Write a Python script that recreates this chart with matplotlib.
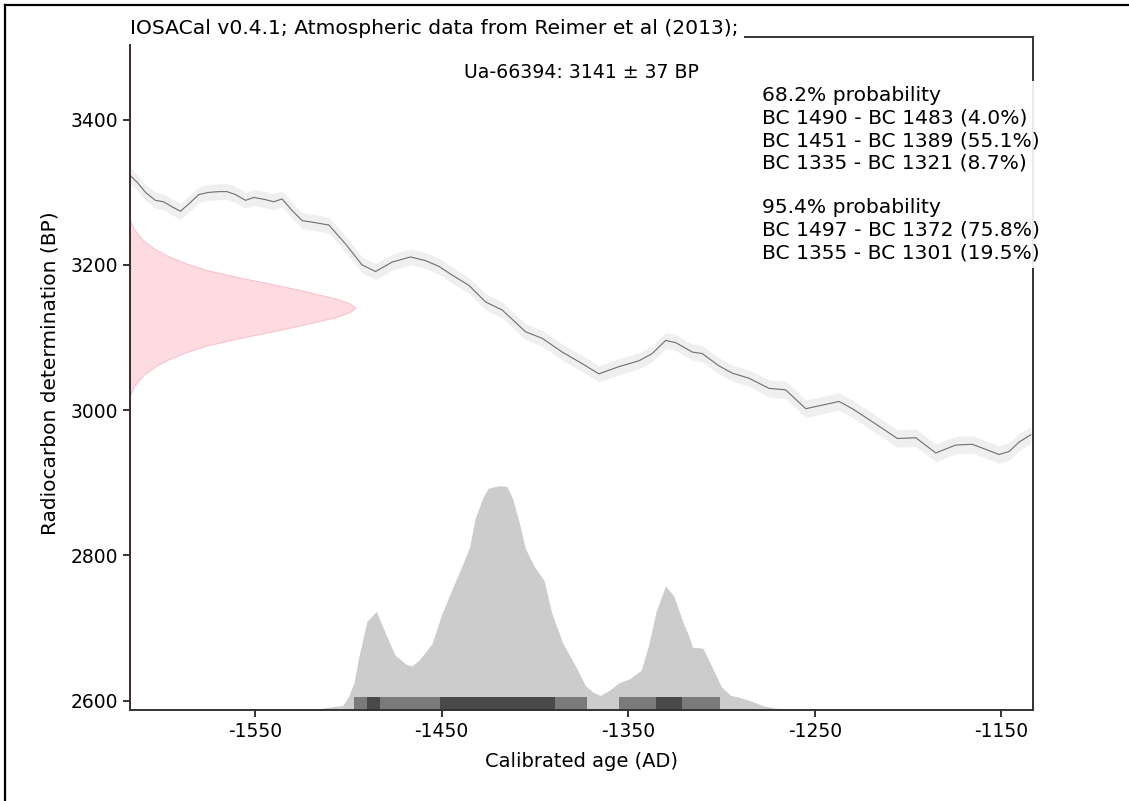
import numpy as np
import matplotlib
matplotlib.use("Agg")
import matplotlib.pyplot as plt
from matplotlib.transforms import blended_transform_factory
from matplotlib.lines import Line2D

plt.rcParams['axes.unicode_minus'] = False
plt.rcParams['font.family'] = ['DejaVu Sans']

# ---- Data ----
# calibration curve (calendar year, radiocarbon BP, error BP)
curve_year = [-1616.8, -1613.2, -1608.7, -1603.4, -1598.9, -1594.4, -1590.0, -1585.5,
              -1580.1, -1574.8, -1569.4, -1565.0, -1560.5, -1555.1, -1550.6, -1544.4,
              -1539.9, -1535.5, -1530.1, -1524.7, -1519.4, -1510.4, -1501.5, -1492.6,
              -1485.4, -1476.5, -1466.6, -1458.6, -1451.4, -1444.3, -1435.4, -1426.4,
              -1417.5, -1405.0, -1396.1, -1385.3, -1374.6, -1365.7, -1354.9, -1344.2,
              -1337.1, -1329.9, -1324.5, -1315.6, -1310.3, -1301.3, -1294.2, -1285.2,
              -1274.5, -1265.6, -1254.8, -1247.7, -1237.0, -1229.8, -1219.1, -1205.7,
              -1195.8, -1185.1, -1174.4, -1165.5, -1151.2, -1145.8, -1140.5, -1134.2]
curve_bp = [3323, 3314, 3300, 3289, 3287, 3280, 3274, 3284,
            3297, 3300, 3301, 3301, 3297, 3289, 3293, 3290,
            3287, 3291, 3275, 3261, 3259, 3255, 3229, 3200,
            3191, 3204, 3211, 3206, 3198, 3186, 3172, 3149,
            3138, 3108, 3099, 3080, 3064, 3050, 3060, 3068,
            3078, 3096, 3093, 3080, 3078, 3061, 3051, 3044,
            3030, 3028, 3002, 3006, 3012, 3002, 2984, 2961,
            2962, 2941, 2952, 2953, 2939, 2943, 2956, 2966]
curve_err = [11, 11, 11, 11, 11, 11, 11, 11,
             11, 11, 11, 11, 11, 11, 11, 11,
             11, 11, 11, 11, 11, 11, 11, 11,
             11, 11, 11, 11, 11, 11, 11, 11,
             11, 11, 11, 11, 11, 11, 11, 11,
             11, 11, 11, 11, 11, 11, 11, 11,
             12, 12, 12, 12, 12, 12, 12, 12,
             12, 12, 12, 12, 12, 12, 12, 12]

# radiocarbon sample distribution (BP, density relative to peak)
sample_bp = [3262, 3252, 3242, 3232, 3222, 3212, 3202, 3193, 3183, 3175, 3165, 3154, 3147, 3141,
             3135, 3128, 3117, 3107, 3099, 3089, 3080, 3070, 3060, 3050, 3040, 3030, 3019]
sample_rel = [0.0, 0.012, 0.035, 0.065, 0.11, 0.17, 0.25, 0.34, 0.48, 0.61, 0.76, 0.91, 0.975, 1.0,
              0.975, 0.91, 0.76, 0.61, 0.48, 0.34, 0.25, 0.17, 0.11, 0.065, 0.035, 0.012, 0.0]

# calibrated calendar distribution (year, probability relative to peak)
cal_year = [-1530, -1522, -1514, -1508, -1503, -1500, -1497, -1494.3, -1490, -1485,
            -1481, -1475, -1469, -1466, -1462, -1455, -1450, -1444, -1439, -1435,
            -1432, -1428, -1425, -1419, -1415, -1412, -1408.5, -1405, -1400.5, -1395,
            -1391, -1385, -1378, -1373, -1369, -1365, -1360, -1355, -1349, -1343,
            -1339, -1335, -1330, -1325.5, -1321, -1317, -1315.6, -1310, -1306, -1300,
            -1295, -1291, -1285, -1278, -1271, -1260, -1250]
cal_rel = [0.0, 0.004, 0.008, 0.015, 0.02, 0.058, 0.12, 0.24, 0.395, 0.44,
           0.36, 0.245, 0.204, 0.196, 0.223, 0.298, 0.426, 0.546, 0.643, 0.726,
           0.854, 0.944, 0.989, 1.0, 0.996, 0.944, 0.839, 0.718, 0.643, 0.576,
           0.433, 0.298, 0.193, 0.11, 0.08, 0.065, 0.088, 0.121, 0.14, 0.178,
           0.29, 0.44, 0.553, 0.508, 0.40, 0.32, 0.28, 0.276, 0.208, 0.103,
           0.065, 0.058, 0.043, 0.02, 0.008, 0.002, 0.0]

# HPD intervals
hpd68 = [(-1490, -1483), (-1451, -1389), (-1335, -1321)]
hpd95 = [(-1497, -1372), (-1355, -1301)]

title_text = "IOSACal v0.4.1; Atmospheric data from Reimer et al (2013);"
sample_text = "Ua-66394: 3141 \u00b1 37 BP"
interval_lines = ["68.2% probability",
                  "BC 1490 - BC 1483 (4.0%)",
                  "BC 1451 - BC 1389 (55.1%)",
                  "BC 1335 - BC 1321 (8.7%)",
                  "",
                  "95.4% probability",
                  "BC 1497 - BC 1372 (75.8%)",
                  "BC 1355 - BC 1301 (19.5%)"]
xticks = [-1550, -1450, -1350, -1250, -1150]
yticks = [2600, 2800, 3000, 3200, 3400]

# ---- Figure ----
W, H = 1129, 801
fig = plt.figure(figsize=(W / 100, H / 100), dpi=100)
ax = fig.add_axes([130 / W, 1 - 710 / H, (1033 - 130) / W, (710 - 37) / H])
ax.set_xlim(-1617, -1133)
ax.set_ylim(2587, 3514)

# calendar distribution (bottom)
tr_xdata = blended_transform_factory(ax.transData, ax.transAxes)
cal_y = np.array(cal_rel) / 3.0
ax.fill_between(cal_year, 0, cal_y, transform=tr_xdata, color='#cccccc', lw=0, zorder=1)

# sample distribution (left)
tr_ydata = blended_transform_factory(ax.transAxes, ax.transData)
samp_x = np.array(sample_rel) * 0.2495
ax.fill_betweenx(sample_bp, 0, samp_x, transform=tr_ydata,
                 facecolor='#fddbe1', edgecolor='#f8c3d1', lw=0.8, zorder=1)

# calibration curve
cy = np.array(curve_bp, dtype=float)
ce = np.array(curve_err, dtype=float)
ax.fill_between(curve_year, cy - ce, cy + ce, color='#efefef', lw=0, zorder=1.5)
ax.plot(curve_year, cy, color='#6e6e6e', lw=0.8, zorder=2)

# HPD bars
for lo, hi in hpd95:
    ax.axvspan(lo, hi, ymin=0.0, ymax=0.019, facecolor='k', alpha=0.4, lw=0, zorder=2)
for lo, hi in hpd68:
    ax.axvspan(lo, hi, ymin=0.0, ymax=0.019, facecolor='k', alpha=0.4, lw=0, zorder=2)

# axes styling
for s in ax.spines.values():
    s.set_color('#333333')
    s.set_linewidth(1.4)
ax.spines['left'].set_color('#3a2c2e')
ax.set_xticks(xticks)
ax.set_yticks(yticks)
ax.tick_params(axis='both', labelsize=13.5, length=5, width=1.4, color='#333333')
ax.set_xlabel("Calibrated age (AD)", fontsize=14, labelpad=8)
ax.set_ylabel("Radiocarbon determination (BP)", fontsize=14.5, labelpad=8)

# texts
ax.text(0.5, 0.947, sample_text, transform=ax.transAxes, ha='center', va='center',
        fontsize=13.6, bbox=dict(facecolor='white', alpha=0.9, lw=0), zorder=5)
ax.text(0.70, 0.796, "\n".join(interval_lines), transform=ax.transAxes,
        ha='left', va='center', fontsize=14.6, linespacing=1.23,
        bbox=dict(facecolor='white', alpha=0.9, lw=0), zorder=5)
ax.text(0.0, 1.012, title_text, transform=ax.transAxes, ha='left', va='center',
        fontsize=14.6, bbox=dict(facecolor='white', edgecolor='none', pad=4), zorder=5)

# figure frame (left and top)
fig.add_artist(Line2D([5 / W, 5 / W], [0, 1 - 5 / H], transform=fig.transFigure,
                      color='black', lw=1.6))
fig.add_artist(Line2D([5 / W, 1], [1 - 5 / H, 1 - 5 / H], transform=fig.transFigure,
                      color='black', lw=1.6))

fig.savefig("out.png", dpi=100)
